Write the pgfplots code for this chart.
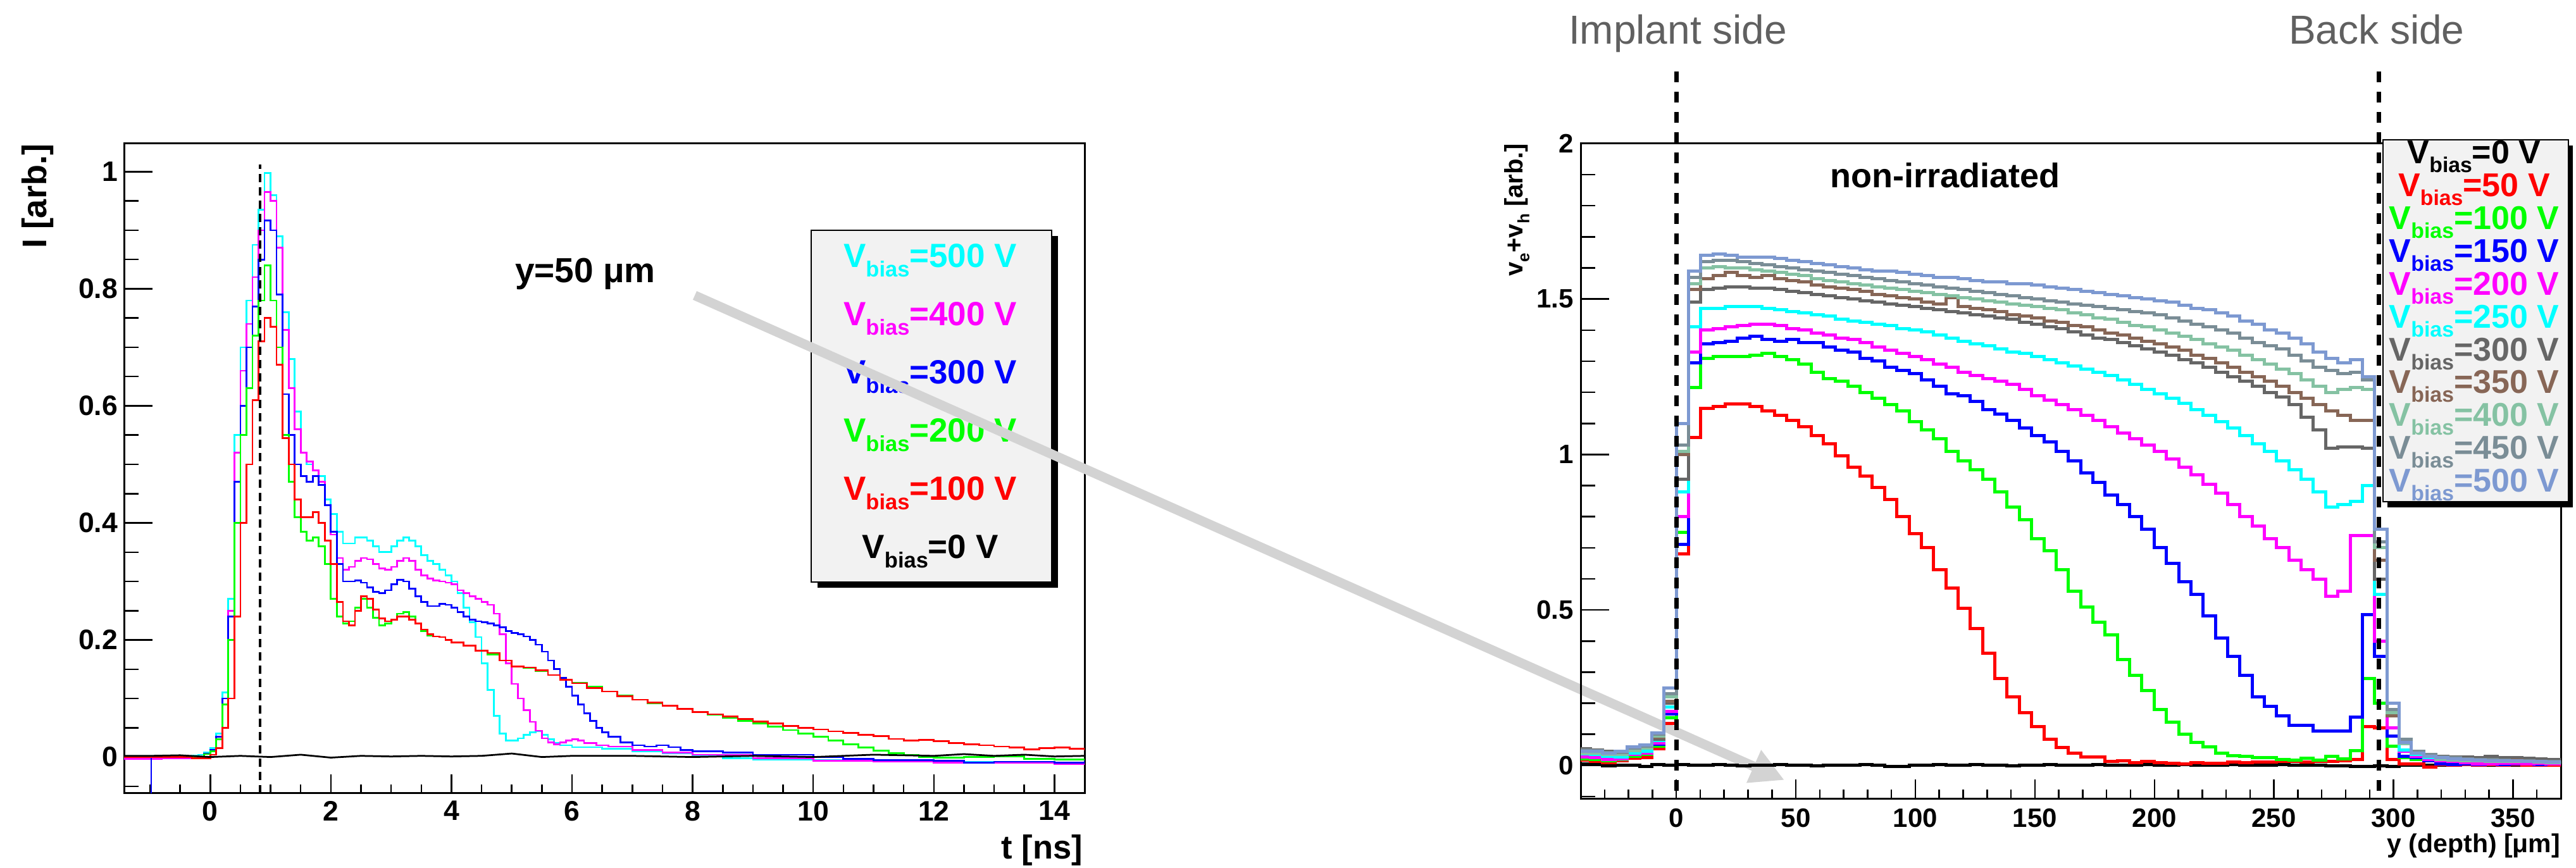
\documentclass[border=0pt]{standalone}
\usepackage{fontspec}
\setmainfont{Liberation Sans}
\usepackage{graphicx}
\usepackage{pgfplots}
\pgfplotsset{compat=1.18}
\usepackage{pgfplotstable}
\usetikzlibrary{arrows.meta}
\definecolor{rgray}{HTML}{666666}
\definecolor{rbrown}{HTML}{876656}
\definecolor{rlgreen}{HTML}{85C2A3}
\definecolor{rgblue}{HTML}{7A8D96}
\definecolor{rcblue}{HTML}{7D99D1}
\definecolor{legfill}{HTML}{F2F2F2}
\definecolor{arrowgray}{HTML}{D3D3D3}
\definecolor{sidegray}{HTML}{606060}
\definecolor{pcyan}{HTML}{00FFFF}
\definecolor{pmag}{HTML}{FF00FF}
\definecolor{pblue}{HTML}{0000FF}
\definecolor{pgreen}{HTML}{00FF00}
\definecolor{pred}{HTML}{FF0000}
\newcommand{\sub}[1]{\raisebox{-0.27em}{\scalebox{0.65}{#1}}}

\pgfplotstableread{
k r g b m c g3 br lg gb cb z
-8 .017 .022 .03 .027 .037 .054 .045 .04 .05 .046 .004
-7 .014 .02 .028 .026 .036 .05 .042 .04 .047 .046 .002
-6 .008 .016 .022 .02 .03 .045 .038 .035 .042 .04 -.002
-5 .015 .02 .03 .022 .028 .045 .04 .036 .042 .045 .0
-4 .024 .03 .04 .035 .04 .055 .05 .048 .056 .06 .0
-3 .025 .035 .045 .04 .045 .06 .055 .055 .062 .065 -.004
-2 .053 .062 .068 .072 .08 .085 .09 .095 .1 .105 .002
-1 .136 .153 .165 .174 .187 .2 .207 .22 .23 .25 .0
0 .68 .75 .71 .80 .88 .92 1.0 1.01 1.03 1.10 .002
1 1.055 1.215 1.295 1.33 1.41 1.49 1.53 1.55 1.57 1.59 .0
2 1.148 1.31 1.355 1.40 1.47 1.53 1.565 1.60 1.62 1.64 .0
3 1.155 1.315 1.36 1.405 1.47 1.535 1.575 1.605 1.625 1.645 .002
4 1.162 1.315 1.365 1.41 1.475 1.54 1.585 1.60 1.625 1.64 .0
5 1.162 1.315 1.375 1.415 1.475 1.54 1.575 1.60 1.62 1.635 -.002
6 1.155 1.32 1.38 1.42 1.475 1.535 1.57 1.595 1.615 1.635 .0
7 1.14 1.325 1.37 1.42 1.47 1.535 1.575 1.59 1.61 1.635 .0
8 1.125 1.315 1.365 1.415 1.465 1.53 1.565 1.585 1.605 1.63 .002
9 1.11 1.305 1.37 1.405 1.46 1.525 1.56 1.58 1.60 1.625 .0
10 1.09 1.29 1.36 1.40 1.455 1.52 1.555 1.575 1.595 1.62 .0
11 1.06 1.265 1.36 1.39 1.45 1.515 1.545 1.565 1.59 1.615 -.002
12 1.035 1.245 1.345 1.385 1.445 1.51 1.54 1.56 1.585 1.61 .0
13 .995 1.235 1.335 1.375 1.435 1.505 1.535 1.555 1.58 1.605 .0
14 .96 1.22 1.33 1.37 1.43 1.50 1.53 1.55 1.575 1.60 .0
15 .93 1.20 1.31 1.36 1.425 1.495 1.525 1.545 1.57 1.595 .002
16 .895 1.18 1.30 1.345 1.42 1.49 1.515 1.54 1.565 1.59 .0
17 .855 1.16 1.28 1.335 1.415 1.485 1.51 1.535 1.56 1.59 -.004
18 .80 1.14 1.27 1.325 1.405 1.48 1.505 1.53 1.555 1.585 -.004
19 .745 1.105 1.26 1.315 1.40 1.475 1.50 1.525 1.55 1.58 .0
20 .70 1.08 1.24 1.305 1.395 1.47 1.49 1.52 1.545 1.575 .0
21 .63 1.05 1.22 1.29 1.385 1.465 1.485 1.515 1.54 1.57 .002
22 .57 1.01 1.195 1.28 1.375 1.46 1.505 1.51 1.535 1.57 .0
23 .505 .98 1.19 1.265 1.365 1.455 1.475 1.505 1.53 1.565 .0
24 .44 .95 1.17 1.255 1.355 1.45 1.47 1.50 1.525 1.56 .002
25 .36 .92 1.145 1.245 1.35 1.445 1.465 1.495 1.52 1.555 .0
26 .28 .88 1.13 1.235 1.34 1.44 1.46 1.49 1.515 1.555 .0
27 .22 .83 1.11 1.225 1.33 1.435 1.45 1.485 1.51 1.55 -.002
28 .17 .79 1.085 1.21 1.325 1.425 1.445 1.48 1.505 1.55 .0
29 .125 .73 1.06 1.19 1.315 1.42 1.44 1.475 1.50 1.545 .0
30 .085 .69 1.04 1.175 1.305 1.41 1.43 1.47 1.495 1.54 .002
31 .057 .63 1.01 1.16 1.295 1.405 1.425 1.465 1.49 1.535 .0
32 .04 .56 .98 1.145 1.285 1.395 1.415 1.455 1.485 1.53 .0
33 .028 .51 .94 1.125 1.275 1.385 1.41 1.45 1.48 1.525 .0
34 .028 .46 .91 1.11 1.265 1.375 1.40 1.44 1.475 1.52 .002
35 .014 .42 .87 1.09 1.255 1.37 1.39 1.435 1.47 1.515 .0
36 .016 .34 .84 1.07 1.24 1.36 1.385 1.425 1.465 1.51 .0
37 .008 .29 .80 1.05 1.225 1.35 1.375 1.415 1.46 1.505 .0
38 .012 .24 .76 1.03 1.21 1.34 1.365 1.41 1.455 1.50 .002
39 .008 .18 .70 1.01 1.195 1.33 1.355 1.40 1.45 1.495 .0
40 .006 .14 .65 .985 1.18 1.32 1.345 1.39 1.44 1.49 .0
41 .004 .10 .59 .96 1.165 1.305 1.335 1.38 1.43 1.48 .002
42 .008 .075 .55 .935 1.145 1.295 1.32 1.37 1.42 1.47 .0
43 .006 .06 .48 .905 1.125 1.28 1.31 1.355 1.41 1.465 .0
44 .006 .04 .41 .875 1.105 1.265 1.295 1.345 1.40 1.455 .0
45 .01 .032 .35 .84 1.085 1.25 1.28 1.335 1.39 1.445 .002
46 .008 .03 .29 .80 1.06 1.235 1.265 1.32 1.375 1.43 .0
47 .01 .025 .22 .77 1.035 1.22 1.25 1.305 1.36 1.42 .0
48 .01 .025 .19 .73 1.01 1.20 1.235 1.29 1.35 1.40 .0
49 .012 .02 .16 .70 .98 1.185 1.22 1.275 1.34 1.39 .002
50 .012 .018 .13 .66 .95 1.16 1.20 1.26 1.32 1.375 .0
51 .01 .024 .13 .63 .92 1.12 1.18 1.24 1.30 1.355 .0
52 .012 .018 .11 .60 .88 1.08 1.16 1.22 1.28 1.33 .0
53 .012 .03 .11 .545 .83 1.02 1.14 1.20 1.27 1.31 -.002
54 .016 .022 .11 .56 .84 1.025 1.125 1.21 1.26 1.295 -.002
55 .02 .047 .156 .74 .85 1.025 1.11 1.215 1.265 1.305 -.004
56 .124 .28 .486 .74 .90 1.02 1.11 1.21 1.24 1.25 -.004
57 .12 .20 .35 .40 .55 .60 .66 .70 .72 .76 -.002
58 .02 .061 .095 .12 .167 .18 .16 .17 .18 .20 -.004
59 .005 .025 .03 .045 .05 .07 .07 .07 .085 .075 .0
60 .005 .02 .025 .03 .035 .045 .04 .04 .045 .04 .0
61 -.005 .015 .015 .02 .025 .035 .03 .03 .035 .03 .0
62 .002 .012 .005 .015 .02 .03 .025 .02 .028 .025 .0
63 .0 .01 .002 .012 .018 .028 .022 .018 .025 .022 .0
64 .002 .012 .004 .008 .016 .028 .022 .016 .022 .02 .002
65 .0 .01 .002 .005 .015 .026 .02 .016 .02 .018 .0
66 .002 .012 .004 .004 .014 .03 .02 .014 .02 .016 .0
67 .0 .008 .002 .006 .012 .025 .018 .012 .018 .016 .002
68 .002 .01 .004 .006 .014 .026 .018 .014 .016 .015 .0
69 .0 .008 .004 .004 .012 .024 .016 .012 .016 .014 .0
70 .0 .01 .002 .006 .01 .022 .014 .01 .014 .012 .0
71 .0 .008 .004 .004 .01 .02 .012 .008 .012 .01 .0
72 .0 .008 .004 .004 .01 .02 .012 .008 .012 .01 .0
73 .0 .008 .004 .004 .01 .02 .012 .008 .012 .01 .0
}\righttab

\begin{document}
\begin{tikzpicture}
\useasboundingbox (0,0) rectangle (814.2pt,274.4pt);
% ---------------- left axis ----------------
\begin{axis}[
  at={(39.2pt,23.6pt)}, anchor=south west, scale only axis,
  width=303.6pt, height=205.4pt,
  xmin=-1.43, xmax=14.5, ymin=-0.062, ymax=1.048,
  tick pos=left, tick align=inside,
  xtick={0,2,4,6,8,10,12,14},
  minor xtick={-1,-0.5,0,0.5,1,1.5,2,2.5,3,3.5,4,4.5,5,5.5,6,6.5,7,7.5,8,8.5,9,9.5,10,10.5,11,11.5,12,12.5,13,13.5,14,14.5},
  ytick={0,0.2,0.4,0.6,0.8,1},
  minor ytick={-0.05,0,0.05,0.1,0.15,0.2,0.25,0.3,0.35,0.4,0.45,0.5,0.55,0.6,0.65,0.7,0.75,0.8,0.85,0.9,0.95,1},
  major tick length=7.5pt, minor tick length=3.7pt,
  xtick style={/pgfplots/major tick length=6pt,/pgfplots/minor tick length=2.8pt},
  ytick style={/pgfplots/major tick length=9pt,/pgfplots/minor tick length=4.6pt},
  tick style={black, line width=0.5pt},
  axis line style={line width=0.6pt},
  /pgf/number format/assume math mode=true,
  tick label style={font=\fontsize{8.9}{10}\selectfont\bfseries},
  yticklabel style={inner sep=0pt, xshift=-1.8pt},
  xticklabel style={inner sep=0pt, yshift=-2.2pt},
]
\addplot[const plot, color=pcyan, line width=0.55pt] coordinates {
(-1.45,0.0) (-0.5,0.0) (-0.3,0.002) (-0.2,0.004) (-0.1,0.008) (0.0,0.015) (0.1,0.04) (0.2,0.11) (0.3,0.27) (0.4,0.55) (0.5,0.70) (0.6,0.78) (0.7,0.875) (0.8,0.935) (0.9,0.998) (1.0,0.96) (1.1,0.89) (1.2,0.76) (1.3,0.68) (1.4,0.59) (1.5,0.52) (1.6,0.50) (1.7,0.49) (1.8,0.48) (1.9,0.44) (2.0,0.415) (2.1,0.385) (2.2,0.365) (2.3,0.365) (2.4,0.375) (2.5,0.375) (2.6,0.37) (2.7,0.36) (2.8,0.35) (2.9,0.35) (3.0,0.36) (3.1,0.37) (3.2,0.375) (3.3,0.37) (3.4,0.36) (3.5,0.345) (3.6,0.335) (3.7,0.33) (3.8,0.32) (3.9,0.31) (4.0,0.30) (4.1,0.28) (4.2,0.255) (4.3,0.23) (4.4,0.205) (4.5,0.16) (4.6,0.115) (4.7,0.07) (4.8,0.04) (4.9,0.028) (5.0,0.028) (5.1,0.032) (5.2,0.038) (5.3,0.042) (5.4,0.044) (5.5,0.038) (5.6,0.03) (5.7,0.024) (5.8,0.02) (6.0,0.017) (6.5,0.014) (7.0,0.01) (7.5,0.006) (8.0,0.002) (8.5,-0.002) (9.0,-0.004) (10,-0.005) (11,-0.006) (12,-0.008) (13,-0.008) (14,-0.01) (14.5,-0.01)};
\addplot[const plot, color=pmag, line width=0.55pt] coordinates {
(-1.45,-0.003) (-0.8,-0.002) (-0.3,0.0) (-0.1,0.006) (0.0,0.012) (0.1,0.035) (0.2,0.1) (0.3,0.25) (0.4,0.52) (0.5,0.66) (0.6,0.74) (0.7,0.82) (0.8,0.90) (0.9,0.965) (1.0,0.95) (1.1,0.87) (1.2,0.73) (1.3,0.63) (1.4,0.56) (1.5,0.52) (1.6,0.505) (1.7,0.49) (1.8,0.47) (1.9,0.43) (2.0,0.38) (2.1,0.34) (2.2,0.32) (2.3,0.325) (2.4,0.335) (2.5,0.34) (2.6,0.338) (2.7,0.33) (2.8,0.322) (2.9,0.32) (3.0,0.325) (3.1,0.335) (3.2,0.34) (3.3,0.335) (3.4,0.32) (3.5,0.31) (3.6,0.305) (3.7,0.302) (3.8,0.30) (3.9,0.298) (4.0,0.295) (4.1,0.285) (4.2,0.28) (4.3,0.275) (4.4,0.27) (4.5,0.265) (4.6,0.26) (4.7,0.245) (4.8,0.21) (4.9,0.16) (5.0,0.125) (5.1,0.1) (5.2,0.08) (5.3,0.06) (5.4,0.045) (5.5,0.032) (5.6,0.025) (5.7,0.022) (5.8,0.025) (5.9,0.028) (6.0,0.03) (6.1,0.028) (6.2,0.024) (6.4,0.02) (6.6,0.018) (7.0,0.012) (7.5,0.008) (8.0,0.004) (9,-0.002) (10,-0.006) (11,-0.008) (12,-0.01) (13,-0.01) (14,-0.012) (14.5,-0.01)};
\addplot[const plot, color=pblue, line width=0.55pt] coordinates {
(-0.98,-0.2) (-0.98,0.0) (-0.3,0.0) (-0.1,0.006) (0.0,0.012) (0.1,0.035) (0.2,0.1) (0.3,0.24) (0.4,0.47) (0.5,0.60) (0.6,0.70) (0.7,0.77) (0.8,0.85) (0.9,0.917) (1.0,0.90) (1.1,0.79) (1.2,0.62) (1.3,0.55) (1.4,0.50) (1.5,0.48) (1.6,0.47) (1.7,0.48) (1.8,0.465) (1.9,0.43) (2.0,0.385) (2.1,0.33) (2.2,0.30) (2.3,0.30) (2.4,0.302) (2.5,0.298) (2.6,0.29) (2.7,0.282) (2.8,0.28) (2.9,0.285) (3.0,0.295) (3.1,0.303) (3.2,0.30) (3.3,0.288) (3.4,0.275) (3.5,0.265) (3.6,0.258) (3.7,0.258) (3.8,0.262) (3.9,0.26) (4.0,0.255) (4.1,0.248) (4.2,0.24) (4.3,0.235) (4.4,0.232) (4.5,0.23) (4.6,0.228) (4.7,0.225) (4.8,0.222) (4.9,0.215) (5.0,0.212) (5.1,0.21) (5.2,0.206) (5.3,0.2) (5.4,0.192) (5.5,0.18) (5.6,0.165) (5.7,0.15) (5.8,0.135) (5.9,0.12) (6.0,0.105) (6.1,0.09) (6.2,0.075) (6.3,0.062) (6.4,0.05) (6.5,0.042) (6.6,0.035) (6.8,0.025) (7.0,0.02) (7.2,0.018) (7.4,0.02) (7.6,0.017) (7.8,0.012) (8.0,0.01) (8.5,0.008) (9,0.004) (10,0.0) (10.5,-0.003) (11,-0.005) (12,-0.006) (12.5,-0.01) (13,-0.008) (14,-0.01) (14.5,-0.005)};
\addplot[const plot, color=pgreen, line width=0.55pt] coordinates {
(-1.45,0.0) (-0.3,0.0) (-0.1,0.005) (0.0,0.01) (0.1,0.03) (0.2,0.09) (0.3,0.2) (0.4,0.40) (0.5,0.55) (0.6,0.63) (0.7,0.72) (0.8,0.78) (0.9,0.84) (1.0,0.78) (1.1,0.70) (1.2,0.55) (1.3,0.47) (1.4,0.41) (1.5,0.385) (1.6,0.37) (1.7,0.375) (1.8,0.36) (1.9,0.33) (2.0,0.27) (2.1,0.24) (2.2,0.228) (2.3,0.232) (2.4,0.255) (2.5,0.27) (2.6,0.255) (2.7,0.238) (2.8,0.225) (2.9,0.228) (3.0,0.235) (3.1,0.245) (3.2,0.248) (3.3,0.24) (3.4,0.228) (3.5,0.215) (3.6,0.208) (3.7,0.206) (3.8,0.205) (3.9,0.2) (4.0,0.196) (4.2,0.19) (4.4,0.182) (4.6,0.175) (4.8,0.165) (5.0,0.155) (5.2,0.152) (5.4,0.147) (5.6,0.14) (5.8,0.132) (6.0,0.127) (6.25,0.12) (6.5,0.112) (6.75,0.105) (7.0,0.098) (7.25,0.092) (7.5,0.087) (7.75,0.082) (8.0,0.077) (8.25,0.072) (8.5,0.067) (8.75,0.062) (9.0,0.057) (9.25,0.052) (9.5,0.046) (9.75,0.04) (10.0,0.035) (10.25,0.028) (10.5,0.022) (10.75,0.016) (11.0,0.011) (11.25,0.007) (11.5,0.003) (11.75,0.0) (12.0,-0.001) (12.5,0.0) (13.0,0.001) (13.5,-0.003) (14,-0.004) (14.5,-0.004)};
\addplot[const plot, color=pred, line width=0.55pt] coordinates {
(-1.45,0.0) (-0.3,-0.002) (0.0,0.004) (0.1,0.015) (0.2,0.05) (0.3,0.10) (0.4,0.24) (0.5,0.40) (0.6,0.50) (0.7,0.61) (0.8,0.71) (0.9,0.75) (1.0,0.735) (1.1,0.67) (1.2,0.545) (1.3,0.50) (1.4,0.44) (1.5,0.41) (1.6,0.41) (1.7,0.418) (1.8,0.40) (1.9,0.37) (2.0,0.33) (2.1,0.265) (2.2,0.232) (2.3,0.225) (2.4,0.25) (2.5,0.275) (2.6,0.27) (2.7,0.252) (2.8,0.237) (2.9,0.232) (3.0,0.235) (3.1,0.24) (3.2,0.24) (3.3,0.235) (3.4,0.228) (3.5,0.218) (3.6,0.21) (3.7,0.206) (3.8,0.205) (3.9,0.2) (4.0,0.196) (4.2,0.19) (4.4,0.182) (4.6,0.178) (4.8,0.165) (5.0,0.155) (5.2,0.153) (5.4,0.148) (5.6,0.14) (5.8,0.132) (6.0,0.126) (6.25,0.118) (6.5,0.112) (6.75,0.104) (7.0,0.098) (7.25,0.093) (7.5,0.088) (7.75,0.082) (8.0,0.077) (8.25,0.073) (8.5,0.069) (8.75,0.065) (9.0,0.061) (9.25,0.057) (9.5,0.053) (9.75,0.05) (10.0,0.047) (10.25,0.044) (10.5,0.041) (10.75,0.038) (11.0,0.036) (11.25,0.031) (11.5,0.028) (11.75,0.029) (12.0,0.027) (12.25,0.024) (12.5,0.022) (12.75,0.02) (13.0,0.018) (13.25,0.016) (13.5,0.013) (13.75,0.015) (14.0,0.016) (14.25,0.014) (14.5,0.012)};
\addplot[color=black, line width=0.55pt] coordinates {
(-1.45,0.002) (-1.0,0.002) (-0.5,0.003) (0.0,0.0) (0.5,0.002) (1.0,0.0) (1.5,0.004) (2.0,-0.001) (2.5,0.002) (3.0,0.001) (3.5,0.002) (4.0,0.001) (4.5,0.002) (5.0,0.006) (5.5,0.0) (6.0,0.002) (7.0,0.002) (8.0,0.0) (9.0,0.002) (10.0,0.0) (11.0,0.004) (12.0,0.002) (12.5,0.005) (13,0.002) (13.5,0.004) (14.0,0.001) (14.5,0.002)};
\draw[black, line width=0.8pt, dash pattern=on 2.6pt off 1.6pt] (axis cs:0.83,-0.062) -- (axis cs:0.83,1.012);
\end{axis}
% left legend
\fill[black] (258.4pt,88.6pt) rectangle (334.4pt,199.8pt);
\filldraw[fill=legfill, draw=black, line width=0.4pt] (256.4pt,90.4pt) rectangle (332.4pt,201.6pt);
\begin{scope}[every node/.style={anchor=base, inner sep=0pt, font=\fontsize{10.6}{12}\selectfont\bfseries}]
\node[text=pcyan] at (294pt,189.8pt) {V\sub{bias}=500 V};
\node[text=pmag] at (294pt,171.4pt) {V\sub{bias}=400 V};
\node[text=pblue] at (294pt,153pt) {V\sub{bias}=300 V};
\node[text=pgreen] at (294pt,134.6pt) {V\sub{bias}=200 V};
\node[text=pred] at (294pt,116.2pt) {V\sub{bias}=100 V};
\node[text=black] at (294pt,97.8pt) {V\sub{bias}=0 V};
\end{scope}
\node[anchor=base, inner sep=0pt, font=\fontsize{11}{13}\selectfont\bfseries] at (185pt,185pt) {y=50 μm};
\node[anchor=base east, rotate=90, inner sep=0pt, font=\fontsize{10.8}{12}\selectfont\bfseries] at (14.6pt,229pt) {I [arb.]};
\node[anchor=base east, inner sep=0pt, font=\fontsize{10.5}{12}\selectfont\bfseries] at (342.4pt,2.8pt) {t [ns]};
% arrow
\draw[line width=3pt, color=arrowgray, -{Triangle[length=10.6pt,width=10.6pt]}] (219.6pt,181pt) -- (564pt,27.8pt);
% ---------------- right axis ----------------
\begin{axis}[
  at={(499.6pt,21.8pt)}, anchor=south west, scale only axis,
  width=309.8pt, height=207.2pt,
  xmin=-40, xmax=370, ymin=-0.108, ymax=2.0,
  tick pos=left, tick align=inside,
  xtick={0,50,100,150,200,250,300,350},
  minor xtick={-30,-20,...,360},
  ytick={0,0.5,1,1.5,2},
  minor ytick={-0.1,0,0.1,0.2,0.3,0.4,0.5,0.6,0.7,0.8,0.9,1,1.1,1.2,1.3,1.4,1.5,1.6,1.7,1.8,1.9},
  major tick length=7.5pt, minor tick length=3.7pt,
  xtick style={/pgfplots/major tick length=6.2pt,/pgfplots/minor tick length=3pt},
  ytick style={/pgfplots/major tick length=9pt,/pgfplots/minor tick length=4.6pt},
  tick style={black, line width=0.5pt},
  axis line style={line width=0.6pt},
  /pgf/number format/assume math mode=true,
  tick label style={font=\fontsize{8.4}{10}\selectfont\bfseries},
  yticklabel style={inner sep=0pt, xshift=-2pt},
  xticklabel style={inner sep=0pt, yshift=-2.8pt},
  every axis plot/.append style={const plot, line width=1pt},
]
\addplot[color=black] table[x expr=\thisrow{k}*5.125, y=z] {\righttab};
\addplot[color=pred] table[x expr=\thisrow{k}*5.125, y=r] {\righttab};
\addplot[color=pgreen] table[x expr=\thisrow{k}*5.125, y=g] {\righttab};
\addplot[color=pblue] table[x expr=\thisrow{k}*5.125, y=b] {\righttab};
\addplot[color=pmag] table[x expr=\thisrow{k}*5.125, y=m] {\righttab};
\addplot[color=pcyan] table[x expr=\thisrow{k}*5.125, y=c] {\righttab};
\addplot[color=rgray] table[x expr=\thisrow{k}*5.125, y=g3] {\righttab};
\addplot[color=rbrown] table[x expr=\thisrow{k}*5.125, y=br] {\righttab};
\addplot[color=rlgreen] table[x expr=\thisrow{k}*5.125, y=lg] {\righttab};
\addplot[color=rgblue] table[x expr=\thisrow{k}*5.125, y=gb] {\righttab};
\addplot[color=rcblue] table[x expr=\thisrow{k}*5.125, y=cb] {\righttab};
\coordinate (d0b) at (axis cs:0,-0.108);
\coordinate (d0t) at (axis cs:0,2.232);
\coordinate (d1b) at (axis cs:294,-0.108);
\coordinate (d1t) at (axis cs:294,2.232);
\end{axis}
\draw[black, line width=1.4pt, dash pattern=on 3.4pt off 3pt] (d0t) -- (d0b);
\draw[black, line width=1.4pt, dash pattern=on 3.4pt off 3pt] (d1t) -- (d1b);
% right legend
\fill[black] (754.6pt,114pt) rectangle (813.2pt,228.4pt);
\filldraw[fill=legfill, draw=black, line width=0.4pt] (753.2pt,115.8pt) rectangle (811.8pt,230.2pt);
\begin{scope}[every node/.style={anchor=base, inner sep=0pt, font=\fontsize{10.4}{12}\selectfont\bfseries}]
\node[text=black] at (782pt,222.6pt) {V\sub{bias}=0 V};
\node[text=pred] at (782pt,212.23pt) {V\sub{bias}=50 V};
\node[text=pgreen] at (782pt,201.86pt) {V\sub{bias}=100 V};
\node[text=pblue] at (782pt,191.49pt) {V\sub{bias}=150 V};
\node[text=pmag] at (782pt,181.12pt) {V\sub{bias}=200 V};
\node[text=pcyan] at (782pt,170.75pt) {V\sub{bias}=250 V};
\node[text=rgray] at (782pt,160.38pt) {V\sub{bias}=300 V};
\node[text=rbrown] at (782pt,150.01pt) {V\sub{bias}=350 V};
\node[text=rlgreen] at (782pt,139.64pt) {V\sub{bias}=400 V};
\node[text=rgblue] at (782pt,129.27pt) {V\sub{bias}=450 V};
\node[text=rcblue] at (782pt,118.9pt) {V\sub{bias}=500 V};
\end{scope}
\node[anchor=base, inner sep=0pt, font=\fontsize{10.8}{12}\selectfont\bfseries] at (614.8pt,215pt) {non-irradiated};
\node[anchor=base west, inner sep=0pt, text=sidegray, font=\fontsize{12.8}{14}\selectfont] at (495.6pt,260.4pt) {Implant side};
\node[anchor=base west, inner sep=0pt, text=sidegray, font=\fontsize{12.8}{14}\selectfont] at (723.2pt,260.4pt) {Back side};
\node[anchor=base east, rotate=90, inner sep=0pt, font=\fontsize{8}{10}\selectfont\bfseries] at (481.2pt,229.2pt) {v\sub{e}+v\sub{h} [arb.]};
\node[anchor=base east, inner sep=0pt, font=\fontsize{8.2}{10}\selectfont\bfseries] at (809.4pt,4.8pt) {y (depth) [μm]};
\end{tikzpicture}
\end{document}
